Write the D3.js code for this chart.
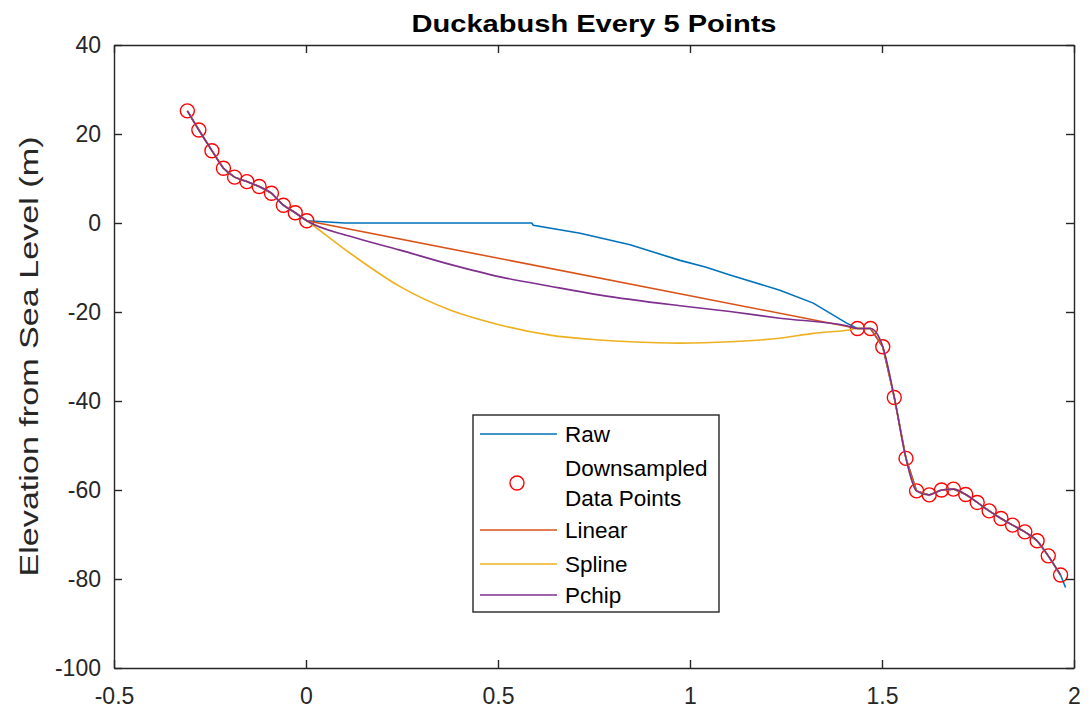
<!DOCTYPE html>
<html>
<head>
<meta charset="utf-8">
<script src="https://cdn.jsdelivr.net/npm/d3@7"></script>
<style>
  body { margin: 0; background: #fff; }
  svg { font-family: "Liberation Sans", Arial, sans-serif; }
</style>
</head>
<body>
<svg width="1090" height="715"></svg>
<script>
var width = 1090;
var height = 715;
var margin = {left: 114, right: 16, top: 45, bottom: 47};

// downsampled points (every 5th raw point)
var downX = [-0.309, -0.279, -0.245, -0.215, -0.186, -0.154, -0.122, -0.090, -0.059, -0.028, 0.002,
             1.436, 1.470, 1.502, 1.532, 1.5625, 1.590, 1.623, 1.655, 1.686, 1.718, 1.748, 1.779,
             1.810, 1.840, 1.872, 1.904, 1.933, 1.965];
var downY = [25.2, 20.9, 16.25, 12.3, 10.3, 9.3, 8.2, 6.7, 4.0, 2.3, 0.5,
             -23.7, -23.7, -27.8, -39.2, -52.9, -60.2, -61.1, -60.0, -59.8, -61.0, -62.8, -64.7,
             -66.4, -67.9, -69.4, -71.4, -74.8, -79.1];
var nLeft = 11;

// raw profile inside the gap, plus its tail
var rawGapX = [0.10, 0.30, 0.50, 0.588, 0.592, 0.714, 0.844, 0.974, 1.04, 1.104, 1.234, 1.321, 1.408];
var rawGapY = [0, 0, 0, 0, -0.5, -2.3, -4.9, -8.4, -9.9, -11.7, -15.1, -18.0, -22.5];
var rawEndX = [1.978];
var rawEndY = [-81.9];

var splineGapX = [0.115, 0.245, 0.375, 0.505, 0.635, 0.766, 0.844, 0.974, 1.104, 1.234, 1.321, 1.408];
var splineGapY = [-6.8, -14.3, -19.55, -22.9, -25.2, -26.3, -26.7, -27.0, -26.7, -25.9, -24.8, -24.1];
var pchipGapX = [0.115, 0.245, 0.375, 0.505, 0.635, 0.766, 0.974, 1.104, 1.234, 1.408];
var pchipGapY = [-3.0, -6.1, -9.3, -12.1, -14.2, -16.2, -18.6, -19.9, -21.4, -23.1];

var xTicks = [-0.5, 0, 0.5, 1, 1.5, 2];
var yTicks = [40, 20, 0, -20, -40, -60, -80, -100];

var legendNames = ["Raw", "Downsampled|Data Points", "Linear", "Spline", "Pchip"];
var colors = {raw: "#0072BD", linear: "#D95319", spline: "#EDB120", pchip: "#7E2F8E", pts: "#FF0000"};

var xScale = d3.scaleLinear().domain([-0.5, 2]).range([margin.left, width - margin.right]);
var yScale = d3.scaleLinear().domain([-100, 40]).range([height - margin.bottom, margin.top]);

var svg = d3.select("svg");

function zip(xs, ys) {
  return xs.map(function (x, i) { return [x, ys[i]]; });
}

var leftPts = zip(downX.slice(0, nLeft), downY.slice(0, nLeft));
var rightPts = zip(downX.slice(nLeft), downY.slice(nLeft));

var rawPts = leftPts.concat(zip(rawGapX, rawGapY), rightPts, zip(rawEndX, rawEndY));
var linearPts = leftPts.concat(rightPts);
var splinePts = leftPts.concat(zip(splineGapX, splineGapY), rightPts);
var pchipPts = leftPts.concat(zip(pchipGapX, pchipGapY), rightPts);

var line = d3.line()
  .x(function (d) { return xScale(d[0]); })
  .y(function (d) { return yScale(d[1]); });

var smooth = d3.line()
  .curve(d3.curveMonotoneX)
  .x(function (d) { return xScale(d[0]); })
  .y(function (d) { return yScale(d[1]); });

svg.append("path").attr("d", line(rawPts))
  .attr("fill", "none").attr("stroke", colors.raw).attr("stroke-width", 1.6);

svg.selectAll("circle.pt")
  .data(zip(downX, downY))
  .enter()
  .append("circle")
  .attr("class", "pt")
  .attr("cx", function (d) { return xScale(d[0]); })
  .attr("cy", function (d) { return yScale(d[1]); })
  .attr("r", 7)
  .attr("fill", "none")
  .attr("stroke", colors.pts)
  .attr("stroke-width", 1.4);

svg.append("path").attr("d", line(linearPts))
  .attr("fill", "none").attr("stroke", colors.linear).attr("stroke-width", 1.6);
svg.append("path").attr("d", smooth(splinePts))
  .attr("fill", "none").attr("stroke", colors.spline).attr("stroke-width", 1.6);
svg.append("path").attr("d", smooth(pchipPts))
  .attr("fill", "none").attr("stroke", colors.pchip).attr("stroke-width", 1.6);

// axes, ticks pointing inward on all four sides
var fmt = function (d) { return String(d); };

var gB = svg.append("g")
  .attr("transform", "translate(0," + (height - margin.bottom) + ")")
  .call(d3.axisBottom(xScale).tickValues(xTicks).tickFormat(fmt).tickSizeInner(-8).tickSizeOuter(0).tickPadding(20));
var gL = svg.append("g")
  .attr("transform", "translate(" + margin.left + ",0)")
  .call(d3.axisLeft(yScale).tickValues(yTicks).tickFormat(fmt).tickSizeInner(-8).tickSizeOuter(0).tickPadding(13));
var gT = svg.append("g")
  .attr("transform", "translate(0," + margin.top + ")")
  .call(d3.axisTop(xScale).tickValues(xTicks).tickFormat("").tickSizeInner(-8).tickSizeOuter(0));
var gR = svg.append("g")
  .attr("transform", "translate(" + (width - margin.right) + ",0)")
  .call(d3.axisRight(yScale).tickValues(yTicks).tickFormat("").tickSizeInner(-8).tickSizeOuter(0));

[gB, gL, gT, gR].forEach(function (g) {
  g.select(".domain").attr("stroke", "#262626").attr("stroke-width", 1.4);
  g.selectAll(".tick line").attr("stroke", "#262626").attr("stroke-width", 1.4);
  g.selectAll(".tick text").attr("fill", "#262626").style("font-size", "23px");
});

// title
svg.append("text")
  .attr("x", (margin.left + width - margin.right) / 2)
  .attr("y", 32)
  .attr("text-anchor", "middle")
  .attr("textLength", 365)
  .attr("lengthAdjust", "spacingAndGlyphs")
  .style("font-size", "24px")
  .style("font-weight", "bold")
  .attr("fill", "#000")
  .text("Duckabush Every 5 Points");

// y label
svg.append("text")
  .attr("transform", "rotate(-90)")
  .attr("x", -(margin.top + height - margin.bottom) / 2)
  .attr("y", 38)
  .attr("text-anchor", "middle")
  .attr("textLength", 440)
  .attr("lengthAdjust", "spacingAndGlyphs")
  .style("font-size", "26px")
  .attr("fill", "#262626")
  .text("Elevation from Sea Level (m)");

// legend
var lg = svg.append("g").attr("transform", "translate(473,415)");
lg.append("rect")
  .attr("width", 246).attr("height", 197)
  .attr("fill", "#fff").attr("stroke", "#262626").attr("stroke-width", 1.4);

var rowY = [19, 68, 115, 149, 180];
var keys = ["raw", "pts", "linear", "spline", "pchip"];
keys.forEach(function (k, i) {
  if (k === "pts") {
    lg.append("circle").attr("cx", 44).attr("cy", rowY[i]).attr("r", 7)
      .attr("fill", "none").attr("stroke", colors.pts).attr("stroke-width", 1.4);
  } else {
    lg.append("line").attr("x1", 7).attr("x2", 84).attr("y1", rowY[i]).attr("y2", rowY[i])
      .attr("stroke", colors[k]).attr("stroke-width", 1.6);
  }
  var parts = legendNames[i].split("|");
  var t = lg.append("text").attr("x", 92).style("font-size", "22.5px").attr("fill", "#000");
  parts.forEach(function (p, j) {
    t.append("tspan").attr("x", 92)
      .attr("y", rowY[i] + 8 + (j - (parts.length - 1) / 2) * 30)
      .text(p);
  });
});
</script>
</body>
</html>
